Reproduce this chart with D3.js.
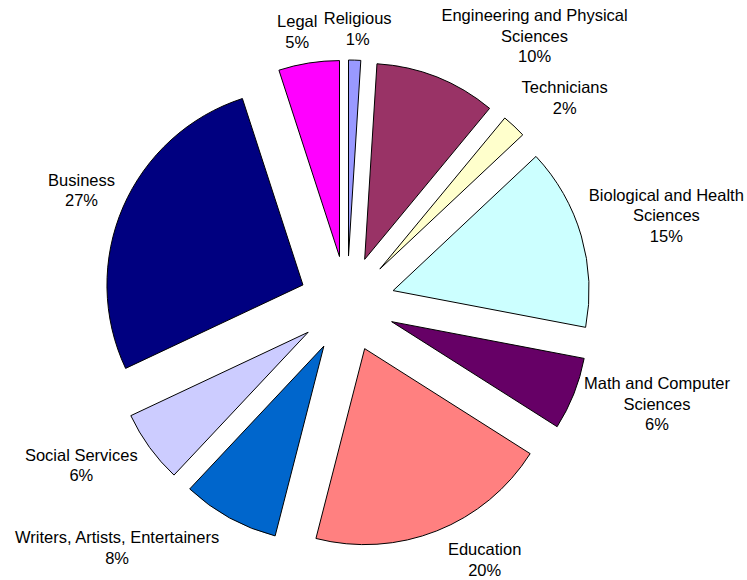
<!DOCTYPE html>
<html>
<head>
<meta charset="utf-8">
<script src="https://cdn.jsdelivr.net/npm/d3@7"></script>
<style>
  html, body { margin: 0; padding: 0; background: #fff; }
  text { font-family: Arial, "Liberation Sans", sans-serif; font-size: 16.5px; fill: #000; }
</style>
</head>
<body>
<svg id="chart" width="747" height="580"></svg>
<script>
// ---- data ----
const categories = [
  "Religious",
  "Engineering and Physical Sciences",
  "Technicians",
  "Biological and Health Sciences",
  "Math and Computer Sciences",
  "Education",
  "Writers, Artists, Entertainers",
  "Social Services",
  "Business",
  "Legal"
];
const values = [1, 10, 2, 15, 6, 20, 8, 6, 27, 5];
const labelLines = [
  ["Religious"],
  ["Engineering and Physical", "Sciences"],
  ["Technicians"],
  ["Biological and Health", "Sciences"],
  ["Math and Computer", "Sciences"],
  ["Education"],
  ["Writers, Artists, Entertainers"],
  ["Social Services"],
  ["Business"],
  ["Legal"]
];
const colors = ["#9999FF", "#993366", "#FFFFCC", "#CCFFFF", "#660066",
                "#FF8080", "#0066CC", "#CCCCFF", "#000080", "#FF00FF"];

// ---- layout ----
const cx = 347, cy = 304, radius = 196, explode = 48;
const labelR = 255, lineH = 20.5, k = 2.5;
// small label nudges (dx, dy) relative to the computed placement
const labelNudge = [[0,0],[8,0],[0,0],[-3,4],[0,-22],[10,-2],[-5,0],[-3,-9],[2,8],[-2,0]];

const svg = d3.select("#chart");
const g = svg.append("g").attr("transform", `translate(${cx},${cy})`);

const pie = d3.pie().sort(null).value(d => d)(values);
const arc = d3.arc().innerRadius(0).outerRadius(radius);
const pct = d3.format(".0%");
const total = d3.sum(values);

g.selectAll("path.slice")
  .data(pie)
  .join("path")
  .attr("class", "slice")
  .attr("d", arc)
  .attr("fill", (d, i) => colors[i])
  .attr("stroke", "#000")
  .attr("stroke-width", 1)
  .attr("stroke-linejoin", "miter")
  .attr("transform", d => {
    const m = (d.startAngle + d.endAngle) / 2;
    return `translate(${explode * Math.sin(m)},${-explode * Math.cos(m)})`;
  });

// measure widths
const measurer = svg.append("text").attr("visibility", "hidden");
function textW(s) { measurer.text(s); return measurer.node().getComputedTextLength(); }

const clamp = v => Math.max(-1, Math.min(1, v));

pie.forEach((d, i) => {
  const m = (d.startAngle + d.endAngle) / 2;
  const ux = Math.sin(m), uy = -Math.cos(m);
  const lines = labelLines[i].concat([pct(values[i] / total)]);
  const w = d3.max(lines, s => textW(s));
  const h = lines.length * lineH;
  const bx = labelR * ux + (w / 2) * clamp(k * ux) + labelNudge[i][0];
  const by = labelR * uy + (h / 2) * clamp(k * uy) + labelNudge[i][1];
  const t = g.append("text").attr("text-anchor", "middle");
  lines.forEach((s, j) => {
    t.append("tspan")
      .attr("x", bx)
      .attr("y", by - h / 2 + 16 + j * lineH)
      .text(s);
  });
});
measurer.remove();
</script>
</body>
</html>
